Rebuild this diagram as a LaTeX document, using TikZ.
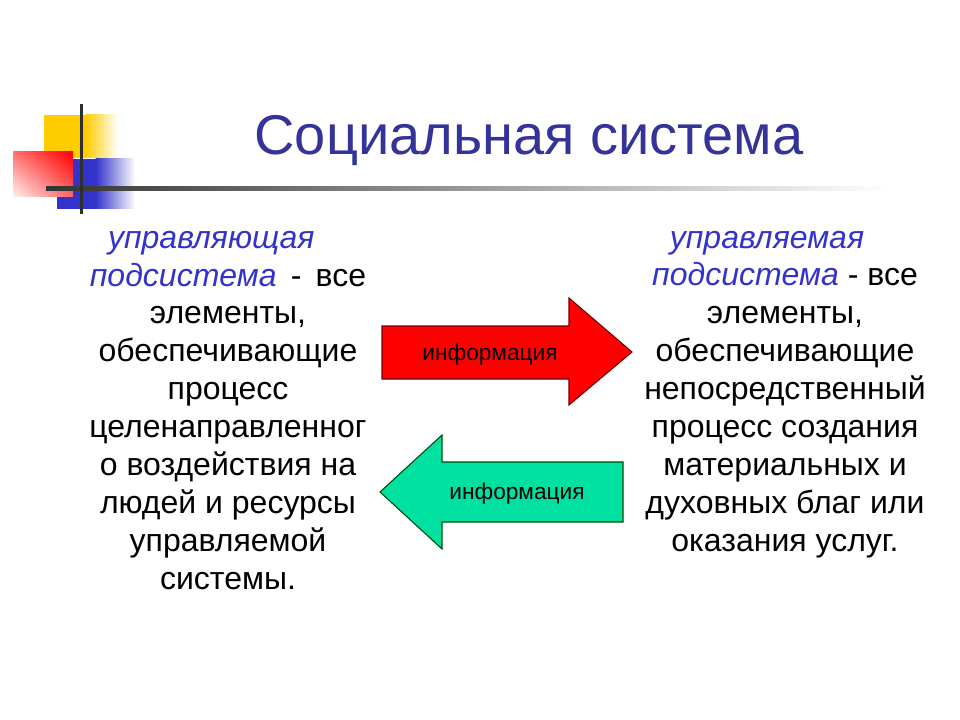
\documentclass[tikz,border=0pt]{standalone}
\usepackage{fontspec}
\setmainfont{Liberation Sans}
\usetikzlibrary{shadings}
\begin{document}
\begin{tikzpicture}[x=0.75pt,y=-0.75pt]
\definecolor{titleblue}{HTML}{333399}
\definecolor{italblue}{HTML}{3333CC}
\definecolor{decoyellow}{HTML}{FFCC00}
\definecolor{decoblue}{HTML}{3333CC}
\definecolor{arrowgreen}{HTML}{00E0A0}
\definecolor{linegray}{HTML}{333333}
\tikzset{
  bodytext/.style={font=\fontsize{24}{28.4}\selectfont, align=center, inner sep=0pt, anchor=base},
  infotext/.style={font=\fontsize{17}{20}\selectfont, inner sep=0pt},
  arrowshape/.style={line width=0.8pt, line join=miter},
}
\useasboundingbox (0,0) rectangle (960,720);
\fill[white] (0,0) rectangle (960,720);
% decoration
\fill[decoyellow] (44,115) rectangle (86,158);
\shade[left color=decoyellow, right color=white] (85.5,115) rectangle (118,158);
\fill[decoblue] (57,159) rectangle (96,209);
\shade[left color=decoblue, right color=white] (95.5,159) rectangle (135,209);
\shade[upper left=red!55, upper right=red, lower left=red!5, lower right=red!60] (13,152) rectangle (73,197);
\shade[left color=linegray, right color=white] (46,187) rectangle (890,191);
\fill[linegray!90!black] (79.5,104) rectangle (83,214);
% title
\node[font=\fontsize{42}{48}\selectfont, text=titleblue, inner sep=0pt, anchor=base] (title) at (529,155) {Социальная система};
% left paragraph (anchored at baseline of its last line)
\node[bodytext] (left) at (228,589) {\textcolor{italblue}{\itshape управляющая}\hspace*{25pt}\\
\textcolor{italblue}{\itshape подсистема}\ \,-\ \,все\\
элементы,\\
обеспечивающие\\
процесс\\
целенаправленног\\
о воздействия на\\
людей и ресурсы\\
управляемой\\
системы.};
% right paragraph
\node[bodytext] (right) at (785,551) {\textcolor{italblue}{\itshape управляемая}\hspace*{27pt}\\
\textcolor{italblue}{\itshape подсистема} - все\\
элементы,\\
обеспечивающие\\
непосредственный\\
процесс создания\\
материальных и\\
духовных благ или\\
оказания услуг.};
% arrows
\draw[arrowshape, fill=red, draw=red!45!black] (382,326) -- (569,326) -- (569,298) -- (632,352) -- (569,405) -- (569,379) -- (382,379) -- cycle;
\node[infotext] (info1) at (490,355) {информация};
\draw[arrowshape, fill=arrowgreen, draw=black!70!green] (623,462) -- (442,462) -- (442,435) -- (380,492) -- (442,549) -- (442,522) -- (623,522) -- cycle;
\node[infotext] (info2) at (517,494) {информация};
\end{tikzpicture}
\end{document}
